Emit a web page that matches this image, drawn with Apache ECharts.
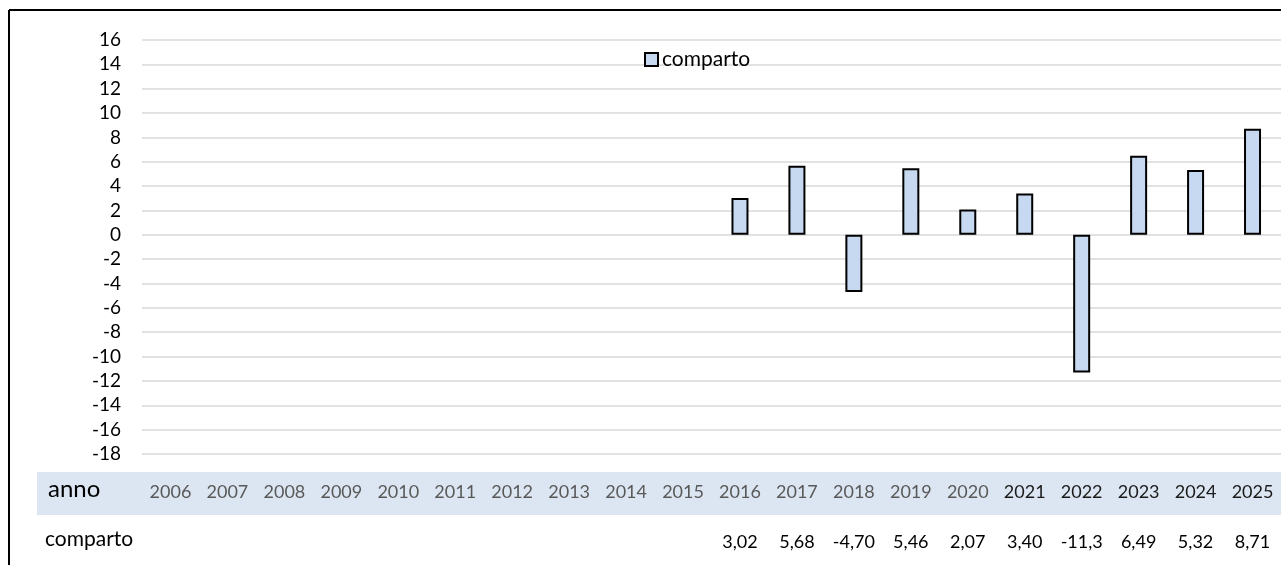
<!DOCTYPE html>
<html>
<head>
<meta charset="utf-8">
<script src="https://cdn.jsdelivr.net/npm/echarts@6/dist/echarts.min.js"></script>
<style>
html,body{margin:0;padding:0;background:#fff;}
#chart{width:1281px;height:565px;}
</style>
</head>
<body>
<div id="chart"></div>
<script>
var years = ['2006','2007','2008','2009','2010','2011','2012','2013','2014','2015','2016','2017','2018','2019','2020','2021','2022','2023','2024','2025'];
var comparto = [null,null,null,null,null,null,null,null,null,null,3.02,5.68,-4.70,5.46,2.07,3.40,-11.3,6.49,5.32,8.71];
var yMin = -18, yMax = 16, yStep = 2;
var seriesName = 'comparto';
var rowLabelYear = 'anno';

var FONT = 'Lato';
var valueLabels = comparto.map(function(v){ return v == null ? '' : v.toPrecision(3).replace('.', ','); });

var chart = echarts.init(document.getElementById('chart'), null, {renderer:'canvas'});
var gridLeft = 142, gridTop = 40, gridW = 1140, gridH = 414;
chart.setOption({
  animation:false,
  textStyle:{fontFamily:FONT},
  legend:{
    show:true, left:639, top:44, itemWidth:13, itemHeight:13, itemGap:4,
    textStyle:{fontFamily:FONT, fontSize:21, color:'#000', padding:[0,0,0,-1]},
    data:[{name:seriesName, icon:'rect'}]
  },
  grid:{left:gridLeft, top:gridTop, width:gridW, height:gridH, containLabel:false},
  xAxis:[{
    type:'category', data:years, position:'bottom',
    axisLine:{show:false}, axisTick:{show:false},
    axisLabel:{interval:0, margin:38, verticalAlign:'middle', fontFamily:FONT, fontSize:18,
      color:function(v, i){ return (+v) >= 2021 ? '#1a1a1a' : '#595959'; }},
    splitLine:{show:false}
  },{
    type:'category', data:valueLabels, position:'bottom',
    axisLine:{show:false}, axisTick:{show:false},
    axisLabel:{interval:0, margin:88, verticalAlign:'middle', fontFamily:FONT, fontSize:18, color:'#000'},
    splitLine:{show:false}
  }],
  yAxis:{
    type:'value', min:yMin, max:yMax, interval:yStep,
    axisLine:{show:false}, axisTick:{show:false},
    axisLabel:{margin:21, fontFamily:FONT, fontSize:19, color:'#000'},
    splitLine:{lineStyle:{color:'#d9d9d9', width:1.5}}
  },
  series:[{
    name:seriesName, type:'bar', data:comparto, barWidth:17, xAxisIndex:0,
    itemStyle:{color:'#c6d9f1', borderColor:'#000', borderWidth:2}
  }],
  graphic:[
    {type:'rect', z:-10, shape:{x:37, y:472, width:1244, height:43}, style:{fill:'#dce6f2'}},
    {type:'text', left:48, top:491-14, style:{text:rowLabelYear, font:'24px '+FONT, fill:'#000'}},
    {type:'text', left:45, top:542-13, style:{text:seriesName, font:'21px '+FONT, fill:'#000'}},
    {type:'line', shape:{x1:9, y1:10, x2:1281, y2:10}, style:{stroke:'#000', lineWidth:2}},
    {type:'line', shape:{x1:9, y1:10, x2:9, y2:565}, style:{stroke:'#000', lineWidth:2}}
  ]
});
</script>
</body>
</html>
